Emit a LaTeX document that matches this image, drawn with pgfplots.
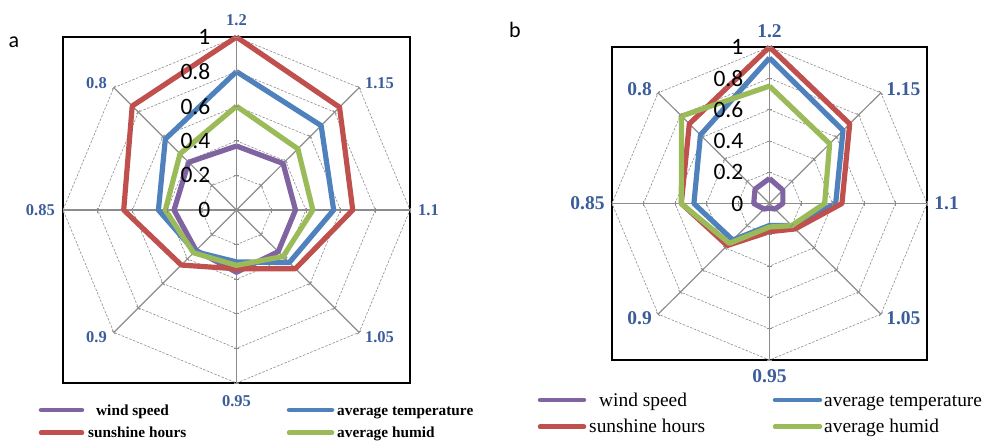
\documentclass[border=0pt]{standalone}
\usepackage{pgfplots}
\pgfplotsset{compat=1.18}
\usepackage{pgfplotstable}
\usepackage{fontspec}
\setmainfont{Liberation Serif}
\newfontfamily\calfont{Carlito}

\definecolor{cws}{HTML}{8064A2}
\definecolor{csh}{HTML}{C0504D}
\definecolor{cat}{HTML}{4F81BD}
\definecolor{cah}{HTML}{9BBB59}
\definecolor{catlab}{HTML}{3B5D9A}
\definecolor{gridc}{HTML}{8C8C8C}

% angle of each category: 1.2 at top, then clockwise
\pgfplotstableread{
ang  ws   at   sh   ah
90   0.37 0.80 1.00 0.60
45   0.38 0.69 0.84 0.50
0    0.34 0.56 0.67 0.44
-45  0.34 0.43 0.48 0.38
-90  0.36 0.30 0.34 0.32
-135 0.33 0.34 0.45 0.35
-180 0.36 0.45 0.65 0.41
-225 0.39 0.58 0.85 0.46
90   0.37 0.80 1.00 0.60
}\dataA

\pgfplotstableread{
ang  ws   at   sh   ah
90   0.16 0.93 1.00 0.75
45   0.12 0.66 0.72 0.54
0    0.085 0.42 0.46 0.35
-45  0.05 0.20 0.23 0.20
-90  0.03 0.14 0.18 0.15
-135 0.05 0.33 0.38 0.36
-180 0.10 0.48 0.56 0.56
-225 0.13 0.62 0.72 0.79
90   0.16 0.93 1.00 0.75
}\dataB

\pgfplotstableread{
ang  k
90   0
45   0
0    0
-45  0
-90  0
-135 0
-180 0
-225 0
90   0
}\octagon

\pgfplotstableread{
r   k
0.2 0
0.4 0
0.6 0
0.8 0
1   0
}\levels

\pgfplotstableread{
r k
0 0
1 0
}\spoke

\pgfplotsset{
  radar/.style={
    scale only axis,
    xmin=-1, xmax=1, ymin=-1, ymax=1,
    xtick=\empty, ytick=\empty,
    clip=false,
    axis line style={black, line width=1.6pt},
  },
  series/.style={line width=5.2pt, line join=round},
}

\newcommand\radargrid{%
  \pgfplotsinvokeforeach{0.2,0.4,0.6,0.8,1}{%
    \addplot[gridc, line width=0.6pt, dash pattern=on 2.5pt off 1.5pt]
      table[x expr={##1*cos(\thisrow{ang})}, y expr={##1*sin(\thisrow{ang})}] {\octagon};
  }
  \pgfplotsinvokeforeach{90,45,0,-45,-90,-135,-180,-225}{%
    \addplot[gridc, line width=1.2pt]
      table[x expr={\thisrow{r}*cos(##1)}, y expr={\thisrow{r}*sin(##1)}] {\spoke};
    \addplot[gridc, only marks, mark=|, mark size=2.5pt, mark options={rotate=##1, line width=0.8pt}]
      table[x expr={\thisrow{r}*cos(##1)}, y expr={\thisrow{r}*sin(##1)}] {\levels};
  }
}

\newcommand\radarseries[1]{%
  \addplot[series, cws] table[x expr={\thisrow{ws}*cos(\thisrow{ang})}, y expr={\thisrow{ws}*sin(\thisrow{ang})}] {#1};
  \addplot[series, cat] table[x expr={\thisrow{at}*cos(\thisrow{ang})}, y expr={\thisrow{at}*sin(\thisrow{ang})}] {#1};
  \addplot[series, csh] table[x expr={\thisrow{sh}*cos(\thisrow{ang})}, y expr={\thisrow{sh}*sin(\thisrow{ang})}] {#1};
  \addplot[series, cah] table[x expr={\thisrow{ah}*cos(\thisrow{ang})}, y expr={\thisrow{ah}*sin(\thisrow{ang})}] {#1};
}

% #1 font size of category labels
\newcommand\radarlabels[1]{%
  \pgfplotsinvokeforeach{0,0.2,0.4,0.6,0.8,1}{%
    \node[anchor=east, inner sep=0pt, xshift=-26pt, font=\calfont\fontsize{23.5pt}{25pt}\selectfont] at (axis cs:0,##1) {##1};
  }
  \begin{scope}[every node/.style={inner sep=0pt, text=catlab, font=\bfseries\fontsize{#1}{#1}\selectfont}]
    \node[anchor=center] at (axis cs:0,1.10) {1.2};
    \node[anchor=west] at (axis cs:0.74,0.732) {1.15};
    \node[anchor=west] at (axis cs:1.046,0) {1.1};
    \node[anchor=west] at (axis cs:0.74,-0.733) {1.05};
    \node[anchor=center] at (axis cs:0,-1.105) {0.95};
    \node[anchor=east] at (axis cs:-0.746,-0.733) {0.9};
    \node[anchor=east] at (axis cs:-1.046,0) {0.85};
    \node[anchor=east] at (axis cs:-0.746,0.732) {0.8};
  \end{scope}
}

\begin{document}
\begin{tikzpicture}[x=1pt, y=1pt]
\useasboundingbox (0,0) rectangle (988,440);

% panel a
\begin{axis}[radar, at={(63pt,57pt)}, anchor=south west, width=347pt, height=346pt]
  \radargrid
  \radarseries{\dataA}
  \radarlabels{16.5pt}
\end{axis}

% panel b
\begin{axis}[radar, at={(612pt,80pt)}, anchor=south west, width=315pt, height=313pt]
  \radargrid
  \radarseries{\dataB}
  \radarlabels{19.5pt}
\end{axis}

\node[font=\calfont\fontsize{22pt}{24pt}\selectfont] at (14,398) {a};
\node[font=\calfont\fontsize{22pt}{24pt}\selectfont] at (515,410) {b};

% legend a
\begin{scope}[line width=4.5pt, line cap=round]
  \draw[cws] (41,30) -- (82,30);
  \draw[cat] (289,30) -- (332,30);
  \draw[csh] (41,7.3) -- (82,7.3);
  \draw[cah] (289,7.3) -- (332,7.3);
\end{scope}
\begin{scope}[every node/.style={anchor=base west, inner sep=0pt, font=\bfseries\fontsize{15.3pt}{16pt}\selectfont}]
  \node at (96,25) {wind speed};
  \node at (337,25) {average temperature};
  \node at (88,2.3) {sunshine hours};
  \node at (337,2.3) {average humid};
\end{scope}

% legend b
\begin{scope}[line width=4.5pt, line cap=round]
  \draw[cws] (540,40) -- (584,40);
  \draw[cat] (775,40) -- (820,40);
  \draw[csh] (540,13.3) -- (584,13.3);
  \draw[cah] (775,13.3) -- (820,13.3);
\end{scope}
\begin{scope}[every node/.style={anchor=base west, inner sep=0pt, font=\fontsize{19.4pt}{20pt}\selectfont}]
  \node at (599,34) {wind speed};
  \node at (824,34) {average temperature};
  \node at (589,7.3) {sunshine hours};
  \node at (824,7.3) {average humid};
\end{scope}
\end{tikzpicture}
\end{document}
